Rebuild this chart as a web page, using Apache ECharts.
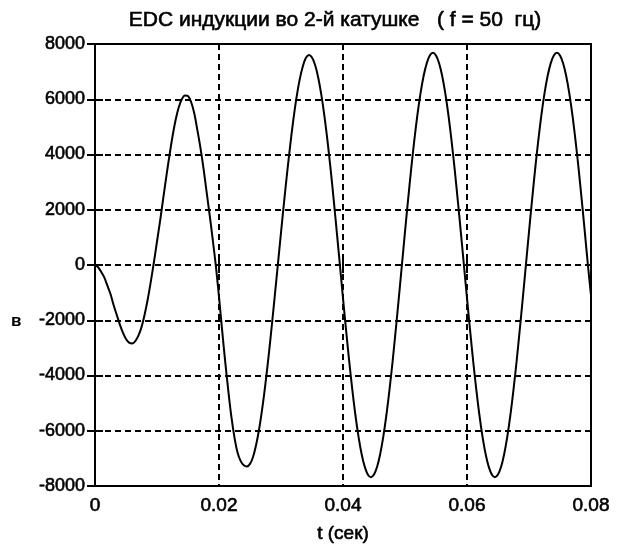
<!DOCTYPE html>
<html>
<head>
<meta charset="utf-8">
<script src="https://cdn.jsdelivr.net/npm/echarts@6/dist/echarts.min.js"></script>
<style>
  html, body { margin: 0; padding: 0; background: #fff; }
  #chart { width: 617px; height: 550px; }
</style>
</head>
<body>
<div id="chart"></div>
<script>
// sampling step of the read-off curve (seconds)
const tStep = 0.0005;

// e.m.f. values (V), every 0.5 ms from t = 0 to 0.08 s
const emf = [
    0, -80, -250, -450, -750, -1050, -1450, -1800, -2150, -2450,
    -2680, -2810, -2840, -2760, -2560, -2250, -1800, -1250, -600, 100,
    850, 1600, 2400, 3200, 3950, 4650, 5250, 5700, 6000, 6140,
    6120, 5900, 5500, 4900, 4250, 3500, 2650, 1800, 900, -50,
    -1150, -2350, -3500, -4550, -5500, -6250, -6800, -7100, -7250, -7290,
    -7200, -6940, -6500, -5900, -5150, -4280, -3300, -2230, -1110, 30,
    1170, 2290, 3360, 4360, 5270, 6060, 6700, 7180, 7490, 7600,
    7510, 7240, 6790, 6170, 5400, 4490, 3470, 2360, 1190, 0,
    -1200, -2370, -3480, -4510, -5430, -6210, -6840, -7300, -7580, -7680,
    -7585, -7305, -6840, -6210, -5430, -4510, -3490, -2370, -1200, 0,
    1200, 2370, 3490, 4510, 5430, 6210, 6840, 7300, 7580, 7680,
    7585, 7305, 6840, 6210, 5430, 4510, 3490, 2370, 1200, 0,
    -1200, -2370, -3490, -4510, -5430, -6210, -6840, -7300, -7580, -7680,
    -7585, -7305, -6840, -6210, -5430, -4510, -3490, -2370, -1200, 0,
    1200, 2370, 3490, 4510, 5430, 6210, 6840, 7300, 7580, 7680,
    7585, 7305, 6840, 6210, 5430, 4510, 3490, 2370, 1200, 0,
    -1100
];

const xTicks = [0, 0.02, 0.04, 0.06, 0.08];
const yTicks = [-8000, -6000, -4000, -2000, 0, 2000, 4000, 6000, 8000];

const titleText = 'EDC индукции во 2-й катушке   ( f = 50  гц)';
const xName = 't (сек)';
const yName = 'в';

var chartDom = document.getElementById('chart');
var myChart = echarts.init(chartDom);

var font = '"Liberation Sans", Arial, sans-serif';

var points = emf.map(function (v, i) {
    return [+(i * tStep).toFixed(4), v];
});

// slight outline makes the glyphs a little heavier, like the scanned original
function textStyle(size) {
    return {
        fontFamily: font, fontSize: size, color: '#000',
        textBorderColor: '#000', textBorderWidth: 0.6
    };
}

var gridDash = { color: '#000', width: 2, type: [6, 4] };
var innerTick = { show: true, inside: true, length: 8, lineStyle: { color: '#000', width: 2 } };

var option = {
    backgroundColor: '#fff',
    animation: false,
    title: {
        text: titleText,
        left: 330,
        top: 5,
        textAlign: 'center',
        textStyle: Object.assign(textStyle(21), { fontWeight: 'normal' })
    },
    graphic: [{
        type: 'text',
        left: 11,
        top: 313,
        style: { text: yName, font: 'bold 17px ' + font, fill: '#000' }
    }],
    grid: {
        left: 95,
        right: 26,
        top: 44,
        bottom: 64,
        show: true,
        borderColor: '#000',
        borderWidth: 2
    },
    xAxis: [{
        type: 'value',
        min: 0,
        max: 0.08,
        interval: 0.02,
        name: xName,
        nameLocation: 'middle',
        nameGap: 38,
        nameTextStyle: textStyle(19),
        axisLine: { show: false },
        axisTick: innerTick,
        axisLabel: Object.assign(textStyle(19), {
            margin: 10,
            formatter: function (v) { return xTicks.indexOf(+v.toFixed(2)) >= 0 ? String(+v.toFixed(2)) : ''; }
        }),
        splitLine: { show: true, lineStyle: gridDash }
    }, {
        type: 'value',
        position: 'top',
        min: 0,
        max: 0.08,
        interval: 0.02,
        axisLine: { show: false },
        axisTick: innerTick,
        axisLabel: { show: false },
        splitLine: { show: false }
    }],
    yAxis: [{
        type: 'value',
        min: -8000,
        max: 8000,
        interval: 2000,
        axisLine: { show: false },
        axisTick: innerTick,
        axisLabel: Object.assign(textStyle(18), {
            margin: 10,
            formatter: function (v) { return yTicks.indexOf(v) >= 0 ? String(v) : ''; }
        }),
        splitLine: { show: true, lineStyle: gridDash }
    }, {
        type: 'value',
        position: 'right',
        min: -8000,
        max: 8000,
        interval: 2000,
        axisLine: { show: false },
        axisTick: innerTick,
        axisLabel: { show: false },
        splitLine: { show: false }
    }],
    series: [{
        type: 'line',
        data: points,
        showSymbol: false,
        smooth: 0.3,
        lineStyle: { color: '#000', width: 2 }
    }]
};

option && myChart.setOption(option);

window.addEventListener('resize', function () {
    myChart.resize();
});
</script>
</body>
</html>
